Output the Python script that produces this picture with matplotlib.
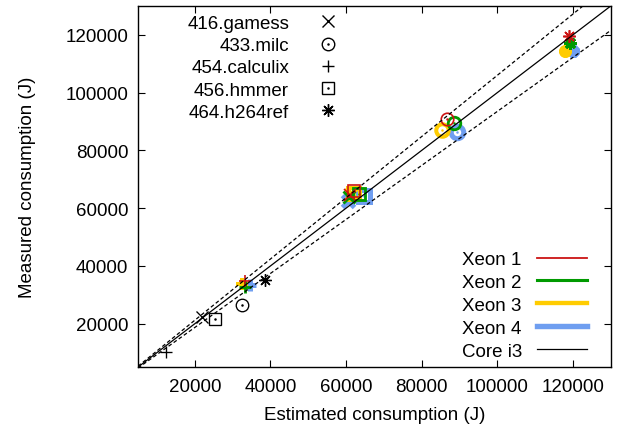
import numpy as np
import matplotlib
matplotlib.use("Agg")
import matplotlib.pyplot as plt
from matplotlib.lines import Line2D

plt.rcParams['font.family'] = ['Liberation Sans', 'DejaVu Sans']
plt.rcParams['font.size'] = 13.5

# benchmarks and their marker shapes
benchmarks = ['416.gamess', '433.milc', '454.calculix', '456.hmmer', '464.h264ref']

machines = ['Xeon 1', 'Xeon 2', 'Xeon 3', 'Xeon 4', 'Core i3']
# estimated / measured consumption (J), one value per benchmark
est = {
    'Xeon 1': [61000, 86600, 33200, 62000, 118900],
    'Xeon 2': [60800, 88500, 33200, 63500, 119200],
    'Xeon 3': [61500, 85400, 32400, 62000, 117900],
    'Xeon 4': [60500, 89300, 34600, 64800, 120000],
    'Core i3': [21800, 32400, 12500, 25300, 38500],
}
meas = {
    'Xeon 1': [64500, 90700, 34900, 65800, 119700],
    'Xeon 2': [63700, 89300, 32800, 64800, 117000],
    'Xeon 3': [64800, 86900, 33900, 65000, 114500],
    'Xeon 4': [62400, 86500, 33500, 64300, 114500],
    'Core i3': [22500, 26600, 10300, 21700, 35300],
}
colors = {'Xeon 1': '#cc1414', 'Xeon 2': '#009a00', 'Xeon 3': '#ffcc00',
          'Xeon 4': '#6f9ef0', 'Core i3': 'black'}
widths = {'Xeon 1': 1.0, 'Xeon 2': 1.7, 'Xeon 3': 2.4, 'Xeon 4': 3.0, 'Core i3': 0.8}

upper, lower = 1.06, 0.935
lim = (5000, 130000)

# marker: (shape, has center dot)
shapes = [('x', False), ('o', True), ('+', False), ('s', True), ((8, 2, 0), False)]

fig = plt.figure(figsize=(6.19, 4.27), dpi=100)
ax = fig.add_axes([0.223, 0.138, 0.764, 0.846])


def draw_point(x, y, shape, dot, color, mew, ms=9):
    ax.plot([x], [y], linestyle='none', marker=shape, ms=ms, mew=mew,
            mec=color, mfc='none', color=color, zorder=2)
    if dot:
        ax.plot([x], [y], linestyle='none', marker='o', ms=1.8, mew=0,
                mfc=color, zorder=2)


# Core i3 first, then Xeon 4 .. Xeon 1 on top
for m in ['Core i3', 'Xeon 4', 'Xeon 3', 'Xeon 2', 'Xeon 1']:
    for i, (shape, dot) in enumerate(shapes):
        draw_point(est[m][i], meas[m][i], shape, dot, colors[m], widths[m] * 1.2)

xs = np.array(lim)
ax.plot(xs, xs, color='black', lw=0.9, zorder=3)
ax.plot(xs, xs * upper, color='black', lw=0.9, ls=(0, (3, 2)), zorder=3)
ax.plot(xs, xs * lower, color='black', lw=0.9, ls=(0, (3, 2)), zorder=3)

ax.set_xlim(lim)
ax.set_ylim(lim)
ticks = [20000, 40000, 60000, 80000, 100000, 120000]
ax.set_xticks(ticks)
ax.set_yticks(ticks)
ax.tick_params(direction='in', length=5, width=0.8, top=True, right=True, pad=7)
ax.tick_params(axis='x', pad=8)
for s in ax.spines.values():
    s.set_linewidth(1.0)
ax.set_xlabel('Estimated consumption (J)', labelpad=8)
ax.set_ylabel('Measured consumption (J)', labelpad=21)

# legend of benchmark shapes
h1 = []
for shape, dot in shapes:
    l = Line2D([], [], linestyle='none', marker=shape, ms=9, mew=1.0,
               mec='black', mfc='none')
    if dot:
        d = Line2D([], [], linestyle='none', marker='o', ms=1.8, mew=0, mfc='black')
        h1.append((l, d))
    else:
        h1.append(l)
leg1 = ax.legend(h1, benchmarks, loc='upper right', bbox_to_anchor=(0.4216, 0.975),
                 markerfirst=False, frameon=False, handlelength=1.0,
                 handletextpad=1.58, labelspacing=0.27, borderpad=0, borderaxespad=0)
ax.add_artist(leg1)

# legend of machines
h2 = [Line2D([], [], color=colors[m], lw=widths[m] * 1.3 if m != 'Core i3' else 0.9)
      for m in machines]
ax.legend(h2, machines, loc='lower right', bbox_to_anchor=(0.949, 0.02),
          markerfirst=False, frameon=False, handlelength=2.67,
          handletextpad=0.8, labelspacing=0.31, borderpad=0, borderaxespad=0)

fig.savefig('out.png', dpi=100)
